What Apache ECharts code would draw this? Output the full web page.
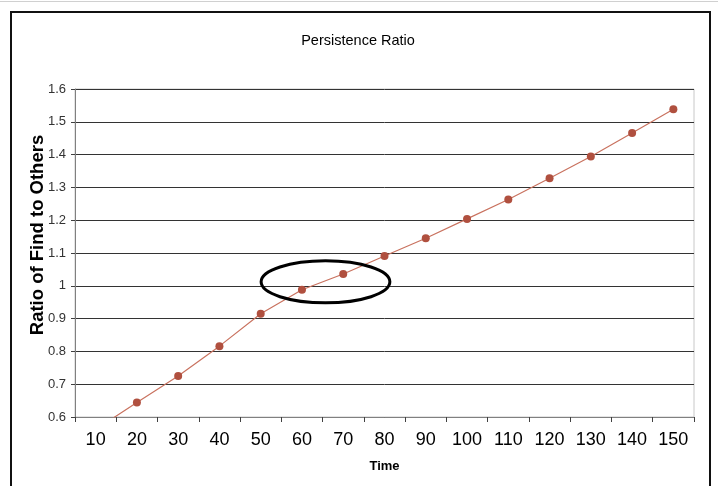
<!DOCTYPE html>
<html>
<head>
<meta charset="utf-8">
<script src="https://cdn.jsdelivr.net/npm/echarts@6/dist/echarts.min.js"></script>
<style>
html,body{margin:0;padding:0;background:#fff;}
#chart{width:718px;height:486px;}
</style>
</head>
<body>
<div id="chart"></div>
<script>
// ---- data ----
var categories = ['10','20','30','40','50','60','70','80','90','100','110','120','130','140','150'];
var ratioValues = [0.562, 0.644, 0.725, 0.816, 0.915, 0.988, 1.036, 1.091, 1.145, 1.204, 1.263, 1.328, 1.394, 1.466, 1.538];
var yMin = 0.6, yMax = 1.6, yStep = 0.1;
var chartTitle = 'Persistence Ratio';
var xName = 'Time';
var yName = 'Ratio of Find to Others';
// annotation ellipse (in data units: category index, value)
var ellipseCenter = [5.57, 1.012];
var ellipseRadius = [1.56, 0.064];

var FONT = "'Liberation Sans', Arial, sans-serif";
var chart = echarts.init(document.getElementById('chart'), null, {renderer: 'canvas'});

var option = {
  animation: false,
  backgroundColor: '#fff',
  title: {
    text: chartTitle,
    left: 353, top: 28, textAlign: 'center',
    textStyle: {fontFamily: FONT, fontSize: 14.5, fontWeight: 'normal', color: '#000'}
  },
  grid: {left: 75, right: 24, top: 89, bottom: 69, show: true, borderColor: '#c8c8c8', borderWidth: 1, backgroundColor: 'transparent'},
  xAxis: {
    type: 'category',
    data: categories,
    boundaryGap: true,
    name: xName,
    nameLocation: 'middle',
    nameGap: 43,
    nameTextStyle: {fontFamily: FONT, fontSize: 13, fontWeight: 'bold', color: '#000'},
    axisLine: {show: true, lineStyle: {color: '#808080', width: 1}},
    axisTick: {show: true, alignWithLabel: false, length: 5, lineStyle: {color: '#404040'}},
    axisLabel: {fontFamily: FONT, fontSize: 18, color: '#000', margin: 14, interval: 0},
    splitLine: {show: false}
  },
  yAxis: {
    type: 'value',
    min: yMin, max: yMax, interval: yStep,
    axisLine: {show: true, lineStyle: {color: '#808080', width: 1}},
    axisTick: {show: true, length: 4, lineStyle: {color: '#404040'}},
    axisLabel: {fontFamily: FONT, fontSize: 13, color: '#333', margin: 9,
      formatter: function (v) { return String(Math.round(v * 10) / 10); }},
    splitLine: {show: true, lineStyle: {color: '#333', width: 1}}
  },
  series: [{
    type: 'line',
    data: ratioValues,
    clip: true,
    symbol: 'circle',
    symbolSize: 8,
    itemStyle: {color: '#B0503F'},
    lineStyle: {color: '#C9725F', width: 1.2},
    z: 3
  }]
};
chart.setOption(option);

function placeGraphics() {
  var p0 = chart.convertToPixel({gridIndex: 0}, [0, ellipseCenter[1]]);
  var p1 = chart.convertToPixel({gridIndex: 0}, [1, ellipseCenter[1] + ellipseRadius[1]]);
  var band = p1[0] - p0[0];
  var cx = p0[0] + band * ellipseCenter[0];
  var cy = p0[1];
  var rx = band * ellipseRadius[0];
  var ry = Math.abs(p0[1] - p1[1]);
  chart.setOption({
    graphic: [
      {type: 'rect', shape: {x: 11, y: 12, width: 699, height: 520},
       style: {fill: 'none', stroke: '#111', lineWidth: 2}, silent: true, z: 10},
      {type: 'line', shape: {x1: 0, y1: 1.5, x2: 718, y2: 1.5},
       style: {stroke: '#d0d0d0', lineWidth: 1}, silent: true},
      {type: 'text', x: 38, y: 235, rotation: Math.PI / 2,
       style: {text: yName, fontFamily: FONT, fontSize: 18.5, fontWeight: 'bold', fill: '#000',
               textAlign: 'center', textVerticalAlign: 'middle'}, silent: true},
      {type: 'ellipse', shape: {cx: cx, cy: cy, rx: rx, ry: ry},
       style: {fill: 'none', stroke: '#000', lineWidth: 3}, silent: true, z: 20}
    ]
  });
}
placeGraphics();
</script>
</body>
</html>
